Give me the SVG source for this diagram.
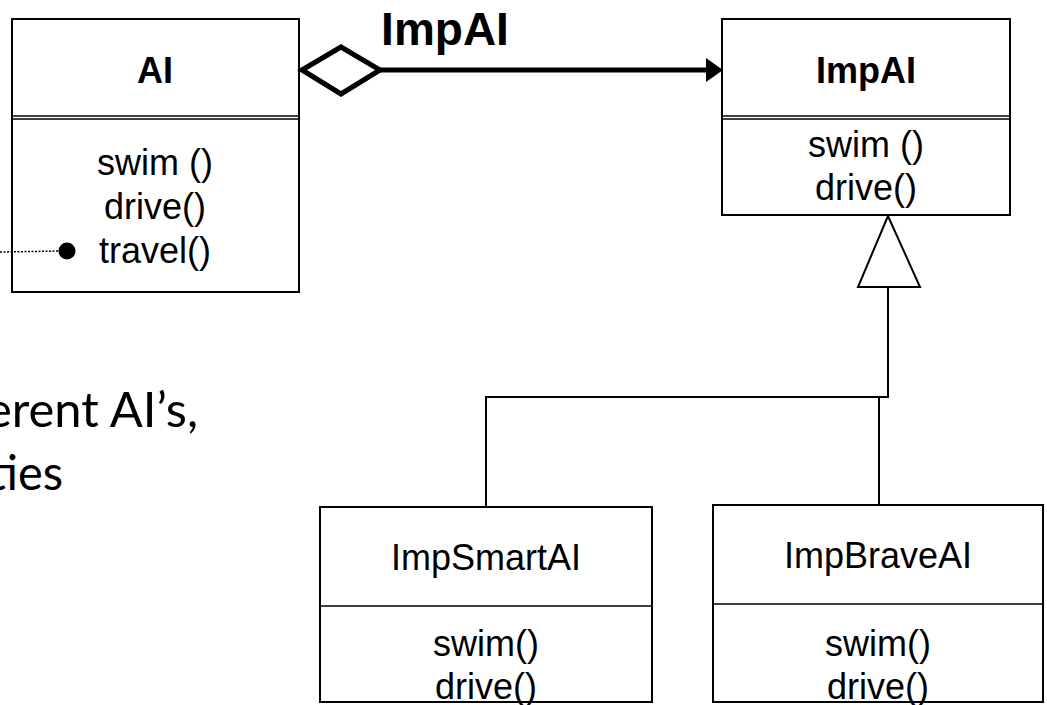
<svg xmlns="http://www.w3.org/2000/svg" width="1047" height="705" viewBox="0 0 1047 705">
<style>
.box{fill:#fff;stroke:#000;stroke-width:2}
.div{stroke:#000;stroke-width:1.5;fill:none}
.t{font-family:"Liberation Sans",Arial,sans-serif;font-size:36px;fill:#000;text-anchor:middle}
.b{font-weight:bold}
.gen{stroke:#000;stroke-width:2;fill:none}
.slide{font-family:Lato,"Open Sans",sans-serif;font-size:48px;fill:#000}
</style>
<rect width="1047" height="705" fill="#fff"/>
<g id="slide-text">
<text class="slide" x="-14" y="427" textLength="212" lengthAdjust="spacingAndGlyphs">erent AI’s,</text>
<text class="slide" x="-11" y="490" textLength="74" lengthAdjust="spacingAndGlyphs">ties</text>
</g>
<g id="AI">
<rect class="box" x="12" y="19" width="287" height="273"/>
<line class="div" x1="12" y1="116" x2="299" y2="116"/>
<line class="div" x1="12" y1="119" x2="299" y2="119"/>
<text class="t b" x="155" y="83">AI</text>
<text class="t" x="155" y="175">swim ()</text>
<text class="t" x="155" y="219">drive()</text>
<text class="t" x="155" y="263">travel()</text>
</g>
<g id="ImpAI-label">
<text class="t b" x="445" y="45" style="font-size:46px">ImpAI</text>
</g>
<g id="ImpAI">
<rect class="box" x="722" y="19" width="288" height="196"/>
<line class="div" x1="722" y1="116" x2="1010" y2="116"/>
<line class="div" x1="722" y1="119" x2="1010" y2="119"/>
<text class="t b" x="866" y="83">ImpAI</text>
<text class="t" x="866" y="157">swim ()</text>
<text class="t" x="866" y="200">drive()</text>
</g>
<g id="ImpSmartAI">
<rect class="box" x="320" y="507" width="332" height="195"/>
<line class="div" x1="320" y1="606" x2="652" y2="606" stroke-width="2"/>
<text class="t" x="486" y="570">ImpSmartAI</text>
<text class="t" x="486" y="656">swim()</text>
<text class="t" x="486" y="699">drive()</text>
</g>
<g id="ImpBraveAI">
<rect class="box" x="713" y="505" width="330" height="197"/>
<line class="div" x1="713" y1="604" x2="1043" y2="604" stroke-width="2"/>
<text class="t" x="878" y="568">ImpBraveAI</text>
<text class="t" x="878" y="656">swim()</text>
<text class="t" x="878" y="699">drive()</text>
</g>
<g id="connectors">
<line x1="0" y1="252" x2="62" y2="251" stroke="#000" stroke-width="1.5" stroke-dasharray="2,1.5"/>
<circle cx="67" cy="251" r="8.5" fill="#000"/>
<line x1="380" y1="70" x2="710" y2="70" stroke="#000" stroke-width="5"/>
<polygon points="706,58 723,70 706,82" fill="#000"/>
<polygon points="302,70 341,47 380,70 341,94" fill="#fff" stroke="#000" stroke-width="5" stroke-linejoin="miter"/>
<polygon points="888,216 858,287 920,287" fill="#fff" stroke="#000" stroke-width="2"/>
<path class="gen" d="M888,287 V397 H486 V507" stroke-width="2.5"/>
<line class="gen" x1="879" y1="398" x2="879" y2="505"/>
</g>
</svg>
